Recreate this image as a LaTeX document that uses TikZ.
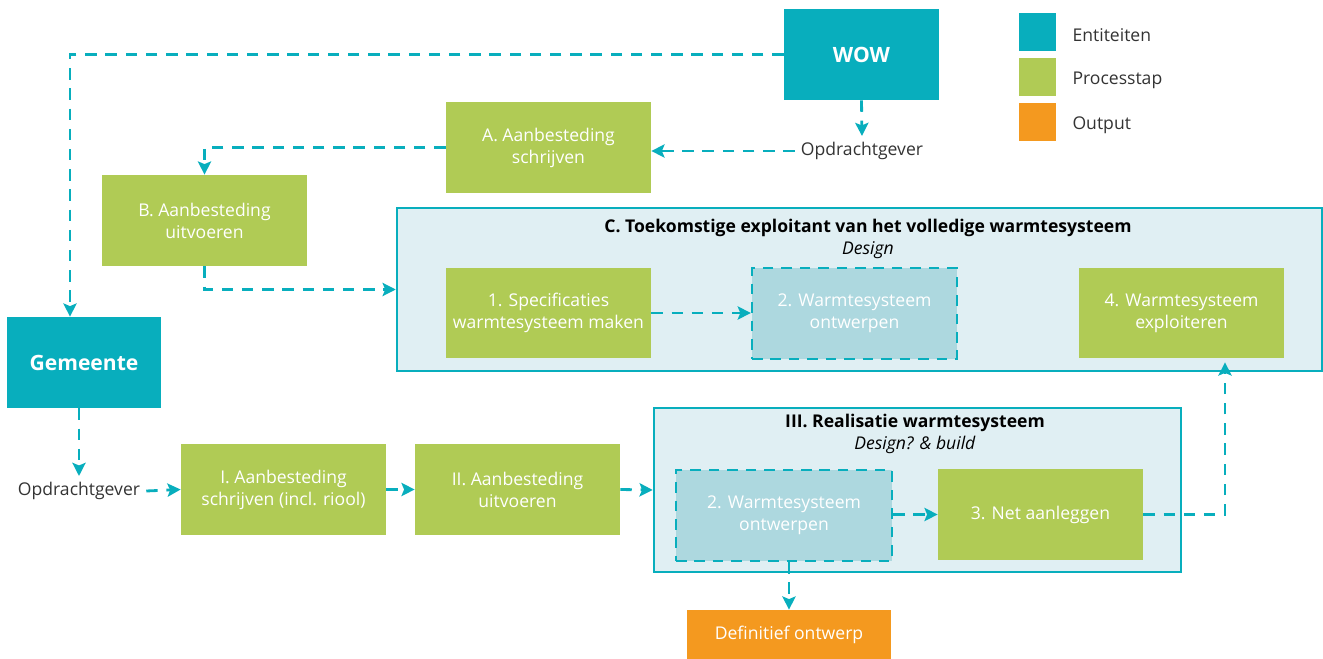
\documentclass[tikz,border=0pt]{standalone}
\usepackage{fontspec}
\setmainfont{Open Sans}
\usetikzlibrary{arrows.meta,calc,positioning}
\definecolor{tealE}{HTML}{08AEBD}
\definecolor{limeP}{HTML}{B0CB55}
\definecolor{orngO}{HTML}{F4991F}
\definecolor{paleF}{HTML}{E0EFF3}
\definecolor{paleD}{HTML}{ADD8DF}
\definecolor{inkT}{HTML}{333333}
\tikzset{box/.style={align=center,minimum width=4.1cm,minimum height=1.82cm,inner sep=2pt,text=white,font=\fontsize{10}{12.5}\selectfont},
  ent/.style={box,fill=tealE,minimum width=3.1cm,font=\fontsize{12}{14}\selectfont\bfseries},
  proc/.style={box,fill=limeP},
  outp/.style={box,fill=orngO,minimum height=0.98cm},
  design/.style={box,fill=paleD,draw=tealE,line width=1.3pt,dash pattern=on 6pt off 4.5pt},
  frame/.style={draw=tealE,line width=1.5pt,fill=paleF,inner sep=0pt},
  ttl/.style={align=center,text=black,font=\fontsize{10}{13}\selectfont},
  lbl/.style={text=inkT,font=\fontsize{10}{12}\selectfont},
  lgd/.style={minimum width=0.74cm,minimum height=0.76cm,inner sep=0pt},
  arr/.style={-{Stealth[length=7.5pt,width=7.5pt,inset=1.5pt]},draw=tealE,line width=1.6pt,dash pattern=on 6.5pt off 5pt}}

\begin{document}
\begin{tikzpicture}[x=0.02cm,y=-0.02cm]
\useasboundingbox (0,0) rectangle (1323,659);
% containers
\node[frame,minimum width=18.5cm,minimum height=3.26cm] (frameC) at (859.5,289.5) {};
\node[frame,minimum width=10.54cm,minimum height=3.28cm] (frameIII) at (917.5,490) {};
\node[ttl] (titleC) at (868,239) {\textbf{C. Toekomstige exploitant van het volledige warmtesysteem}\\\textit{Design}};
\node[ttl] (titleIII) at (915,434) {\textbf{III. Realisatie warmtesysteem}\\\textit{Design? \& build}};
% entities
\node[ent] (wow) at (861.5,54.5) {WOW};
\node[ent,minimum width=3.08cm] (gem) at (84,362.5) {Gemeente};
\node[lbl] (opdA) at (862,151) {Opdrachtgever};
\node[lbl] (opdB) at (79,491) {Opdrachtgever};
% process steps
\node[proc] (aanA) at (548.5,147.5) {A. Aanbesteding\\schrijven};
\node[proc] (aanB) at (204.5,220.5) {B. Aanbesteding\\uitvoeren};
\node[proc] (specC) at (548.5,313) {1. Specificaties\\warmtesysteem maken};
\node[design] (ontwC) at (854.5,313.5) {2. Warmtesysteem\\ontwerpen};
\node[proc] (explC) at (1181.5,313) {4. Warmtesysteem\\exploiteren};
\node[proc] (aanI) at (283.5,489.5) {I. Aanbesteding\\schrijven (incl. riool)};
\node[proc] (aanII) at (517.5,489.5) {II. Aanbesteding\\uitvoeren};
\node[design,minimum width=4.32cm] (ontwIII) at (784,515.5) {2. Warmtesysteem\\ontwerpen};
\node[proc] (netIII) at (1040.5,514.5) {3. Net aanleggen};
\node[outp] (defo) at (789,634.5) {Definitief ontwerp};
% legend
\foreach \c/\t/\y in {tealE/Entiteiten/32,limeP/Processtap/77,orngO/Output/122}{
  \node[lgd,fill=\c] (k\t) at (1037.5,\y) {};
  \node[lbl,right=0.2cm of k\t,yshift=-0.06cm] {\t};}
% connectors
\draw[arr] (wow.west) -| ($(gem.north)+(-14,0)$);
\draw[arr] (wow.south) -- (opdA.north);
\draw[arr] (opdA.west) -- (opdA.west -| aanA.east);
\draw[arr] (aanA.west) -| (aanB.north);
\draw[arr] (aanB.south) |- (frameC.west);
\draw[arr] (specC.east) -- (specC.east -| ontwC.west);
\draw[arr] (gem.south -| opdB.north) -- (opdB.north);
\draw[arr] (opdB.east) -- (aanI.west);
\draw[arr] (aanI.east) -- (aanII.west);
\draw[arr] (aanII.east) -- (frameIII.west);
\draw[arr] (ontwIII.east |- netIII.west) -- (netIII.west);
\draw[arr,shorten >=2pt] (netIII.east) -| ($(explC.south)+(43.5,0)$);
\draw[arr] (defo.north |- ontwIII.south) -- (defo.north);
\end{tikzpicture}
\end{document}
